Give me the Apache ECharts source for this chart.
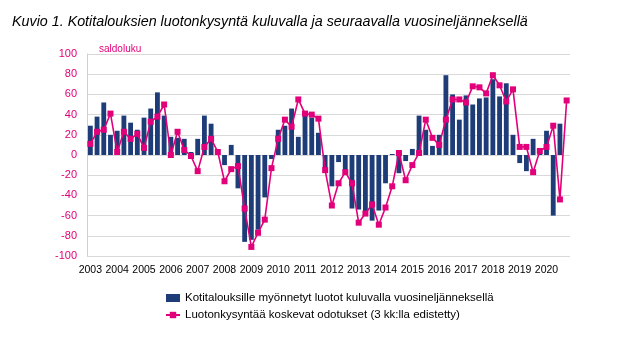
<!DOCTYPE html>
<html>
<head>
<meta charset="utf-8">
<script src="https://cdn.jsdelivr.net/npm/echarts@6/dist/echarts.min.js"></script>
<style>
html,body{margin:0;padding:0;background:#fff;}
#c{width:638px;height:340px;}
</style>
</head>
<body>
<div id="c"></div>
<script>
// Years (tick labels at each first quarter)
const years = ['2003','2004','2005','2006','2007','2008','2009','2010','2011','2012','2013','2014','2015','2016','2017','2018','2019','2020'];
// Quarter categories 2003Q1..2020Q4
const quarters = [];
years.forEach(function(y){ for (let q = 1; q <= 4; q++) quarters.push(y + 'Q' + q); });

// Kotitalouksille myönnetyt luotot kuluvalla vuosineljänneksellä (bars)
const granted = [
  29, 38, 52, 20,
  24, 39, 32, 25,
  37, 46, 62, 39,
  18, 17, 16, 3,
  16, 39, 31, 2,
  -10, 10, -33, -86,
  -84, -74, -42, -4,
  25, 29, 46, 18,
  39, 37, 22, -13,
  -31, -7, -15, -53,
  -54, -60, -65, -55,
  -28, 1, -18, -6,
  6, 39, 25, 9,
  20, 79, 60, 35,
  59, 50, 56, 57,
  75, 58, 71, 20,
  -8, -16, 16, 2,
  24, -60, 31, null
];
// Luotonkysyntää koskevat odotukset (3 kk:lla edistetty) (line)
const expected = [
  11, 23, 25, 41,
  3, 23, 16, 21,
  7, 33, 38, 50,
  0, 23, 5, -1,
  -16, 8, 16, 3,
  -26, -14, -11, -53,
  -91, -77, -64, -13,
  16, 35, 28, 55,
  41, 40, 36, -15,
  -50, -28, -17, -28,
  -67, -58, -49, -69,
  -52, -31, 2, -25,
  -10, 2, 35, 17,
  10, 35, 55, 55,
  52, 68, 67, 61,
  79, 69, 53, 65,
  8, 8, -17, 4,
  8, 29, -44, 54
];

const titleText = 'Kuvio 1. Kotitalouksien luotonkysyntä kuluvalla ja seuraavalla vuosineljänneksellä';
const unitText = 'saldoluku';
const barName = 'Kotitalouksille myönnetyt luotot kuluvalla vuosineljänneksellä';
const lineName = 'Luotonkysyntää koskevat odotukset (3 kk:lla edistetty)';

const NAVY = '#1d3c78';
const MAGENTA = '#e2007a';

const chart = echarts.init(document.getElementById('c'), null, {renderer: 'canvas'});
chart.setOption({
  animation: false,
  backgroundColor: '#fff',
  textStyle: {fontFamily: 'Liberation Sans, Arial, sans-serif'},
  title: [
    {text: titleText, left: 7, top: 10,
     textStyle: {fontSize: 14.3, fontStyle: 'italic', fontWeight: 'normal', color: '#000', fontFamily: 'Liberation Sans, Arial, sans-serif'}},
    {text: unitText, left: 94, top: 39,
     textStyle: {fontSize: 10, fontWeight: 'normal', color: MAGENTA}}
  ],
  grid: {left: 87, right: 68, top: 54, bottom: 84, containLabel: false},
  legend: {
    orient: 'vertical', left: 160, top: 287, itemGap: 5,
    itemWidth: 14, itemHeight: 8,
    textStyle: {fontSize: 11.5, color: '#000'},
    data: [
      {name: barName, icon: 'rect'},
      {name: lineName}
    ]
  },
  xAxis: {
    type: 'category', data: quarters, boundaryGap: true,
    axisLine: {show: false, onZero: false},
    axisTick: {show: false},
    axisLabel: {
      interval: 3, color: '#000', fontSize: 10.5, margin: 9,
      formatter: function(v){ return v.slice(0, 4); }
    },
    splitLine: {show: false}
  },
  yAxis: {
    type: 'value', min: -100, max: 100, interval: 20,
    axisLine: {show: true, lineStyle: {color: '#d0d0d0'}},
    axisTick: {show: false},
    axisLabel: {color: MAGENTA, fontSize: 11, margin: 10},
    splitLine: {lineStyle: {color: '#d9d9d9', width: 1}}
  },
  series: [
    {name: barName, type: 'bar', data: granted, itemStyle: {color: NAVY},
     barCategoryGap: '28%'},
    {name: lineName, type: 'line', data: expected, itemStyle: {color: MAGENTA},
     lineStyle: {color: MAGENTA, width: 1.6},
     symbol: 'rect', symbolSize: 6, showSymbol: true, showAllSymbol: true, z: 3}
  ]
});
</script>
</body>
</html>
